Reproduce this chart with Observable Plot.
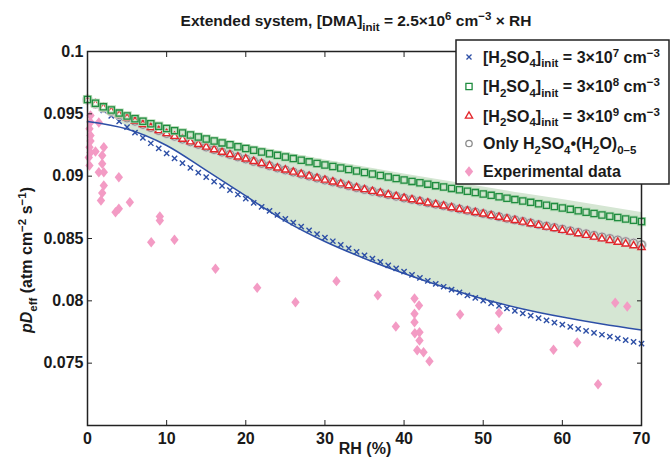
<!DOCTYPE html>
<html><head><meta charset="utf-8">
<script src="https://cdn.jsdelivr.net/npm/d3@7"></script>
<script src="https://cdn.jsdelivr.net/npm/@observablehq/plot@0.6"></script>
<style>body{margin:0;background:#fff}</style>
</head><body><div id="chart"></div>
<script>
// ---- data ----
const rh = [0,1,2,3,4,5,6,7,8,9,10,11,12,13,14,15,16,17,18,19,20,21,22,23,24,25,26,27,28,29,30,31,32,33,34,35,36,37,38,39,40,41,42,43,44,45,46,47,48,49,50,51,52,53,54,55,56,57,58,59,60,61,62,63,64,65,66,67,68,69,70];
const h2so4_3e7 = [0.09615,0.09571,0.09527,0.09483,0.09439,0.09394,0.09350,0.09307,0.09264,0.09223,0.09182,0.09143,0.09104,0.09066,0.09029,0.08993,0.08957,0.08922,0.08888,0.08853,0.08819,0.08786,0.08754,0.08721,0.08689,0.08658,0.08627,0.08596,0.08566,0.08536,0.08507,0.08478,0.08449,0.08421,0.08393,0.08365,0.08338,0.08312,0.08285,0.08260,0.08234,0.08209,0.08184,0.08160,0.08136,0.08113,0.08089,0.08067,0.08044,0.08023,0.08001,0.07980,0.07959,0.07939,0.07919,0.07900,0.07881,0.07862,0.07844,0.07826,0.07809,0.07792,0.07775,0.07759,0.07743,0.07728,0.07712,0.07698,0.07684,0.07670,0.07656];
const h2so4_3e8 = [0.09615,0.09585,0.09556,0.09531,0.09506,0.09483,0.09461,0.09440,0.09420,0.09401,0.09382,0.09365,0.09347,0.09330,0.09314,0.09298,0.09282,0.09267,0.09252,0.09236,0.09222,0.09208,0.09194,0.09180,0.09167,0.09154,0.09141,0.09128,0.09115,0.09102,0.09090,0.09078,0.09066,0.09054,0.09041,0.09029,0.09017,0.09005,0.08993,0.08981,0.08969,0.08958,0.08947,0.08936,0.08924,0.08913,0.08902,0.08891,0.08879,0.08868,0.08857,0.08846,0.08835,0.08823,0.08812,0.08801,0.08790,0.08778,0.08767,0.08756,0.08745,0.08734,0.08722,0.08711,0.08700,0.08689,0.08678,0.08668,0.08657,0.08647,0.08636];
const h2so4_3e9 = [0.09615,0.09581,0.09550,0.09521,0.09493,0.09467,0.09441,0.09415,0.09390,0.09366,0.09342,0.09320,0.09297,0.09276,0.09255,0.09234,0.09213,0.09193,0.09174,0.09155,0.09138,0.09119,0.09102,0.09084,0.09066,0.09050,0.09033,0.09017,0.09001,0.08985,0.08969,0.08954,0.08939,0.08924,0.08908,0.08893,0.08879,0.08866,0.08852,0.08839,0.08825,0.08812,0.08799,0.08786,0.08774,0.08761,0.08748,0.08735,0.08722,0.08709,0.08697,0.08684,0.08671,0.08658,0.08645,0.08632,0.08619,0.08606,0.08592,0.08580,0.08566,0.08552,0.08539,0.08526,0.08512,0.08498,0.08485,0.08471,0.08457,0.08443,0.08429];
const onlyHydrates = [0.09615,0.09581,0.09550,0.09521,0.09493,0.09467,0.09441,0.09415,0.09390,0.09366,0.09342,0.09320,0.09297,0.09276,0.09255,0.09234,0.09213,0.09193,0.09174,0.09155,0.09138,0.09119,0.09102,0.09084,0.09066,0.09050,0.09033,0.09017,0.09001,0.08985,0.08969,0.08954,0.08939,0.08924,0.08908,0.08893,0.08879,0.08866,0.08852,0.08839,0.08825,0.08813,0.08800,0.08787,0.08775,0.08763,0.08750,0.08737,0.08725,0.08712,0.08700,0.08688,0.08675,0.08662,0.08650,0.08637,0.08625,0.08612,0.08600,0.08588,0.08575,0.08562,0.08550,0.08538,0.08525,0.08512,0.08500,0.08488,0.08475,0.08463,0.08450];

const lineRH  = [0,5,10,15,20,25,30,35,40,45,50,55,60,65,70];
const lineVal = [0.09439,0.09378,0.09246,0.09046,0.08841,0.08640,0.08476,0.08340,0.08219,0.08111,0.08015,0.07935,0.07870,0.07814,0.07766];

const shadeRH   = [0,1,2,3,4,5,10,15,20,25,30,35,40,45,50,55,60,65,70];
const shadeLow  = [0.09615,0.09571,0.09527,0.09483,0.09439,0.09394,0.09246,0.09046,0.08841,0.08640,0.08476,0.08340,0.08219,0.08111,0.08015,0.07935,0.07870,0.07814,0.07766];
const shadeHigh = [0.09631,0.09605,0.09578,0.09553,0.09528,0.09503,0.09406,0.09326,0.09254,0.09190,0.09130,0.09074,0.09017,0.08965,0.08913,0.08861,0.08813,0.08761,0.08709];

const expRH  = [0.38,0.38,0.25,0.38,0.38,0.25,0.38,0.16,0.25, 1.43,1.01, 2.06,1.86,1.86,1.43,2.06,2.06,1.86,1.7, 3.96,5.35,3.96,3.54, 9.14,9.14,8.05,10.99,16.17,21.44,26.28,31.46,36.68,38.96, 41.32,41.89,41.32,41.32,41.36,41.95,41.95,41.66,42.46,43.21, 47.08,52.0,51.93,58.88,61.88,64.51,66.68,68.2];
const expVal = [0.09487,0.09433,0.09380,0.09326,0.09282,0.09232,0.09190,0.09150,0.09086, 0.09430,0.09198, 0.09232,0.09166,0.09099,0.09032,0.09032,0.08925,0.08865,0.08805, 0.08992,0.08791,0.08738,0.08711, 0.08677,0.08644,0.08470,0.08490,0.08257,0.08105,0.07989,0.08158,0.08045,0.07794, 0.08019,0.07963,0.07896,0.07829,0.07740,0.07748,0.07682,0.07604,0.07588,0.07516, 0.07890,0.07902,0.07776,0.07607,0.07666,0.07331,0.07984,0.07955];

const xTicks = [0,10,20,30,40,50,60,70];
const yTicks = [0.075,0.08,0.085,0.09,0.095,0.1];
const yTickLabels = ["0.075","0.08","0.085","0.09","0.095","0.1"];

// ---- tables ----
const model = rh.map((x,i) => ({x, a:h2so4_3e7[i], b:h2so4_3e8[i], c:h2so4_3e9[i], d:onlyHydrates[i]}));
const lineRows = lineRH.map((x,i) => ({x, y:lineVal[i]}));
const shadeRows = shadeRH.map((x,i) => ({x, lo:shadeLow[i], hi:shadeHigh[i]}));
const expRows = expRH.map((x,i) => ({x, y:expVal[i]}));

const tallDiamond = {draw(ctx, size){ const s=Math.sqrt(size); const h=s*0.5, w=s*0.4;
  ctx.moveTo(0,-h); ctx.lineTo(w,0); ctx.lineTo(0,h); ctx.lineTo(-w,0); ctx.closePath(); }};

const BLUE="#2d4fa6", GREEN="#1f8c3f", RED="#e3262b", GRAY="#8c8c8c", PINK="#f39bc4";
const FONT = "'Liberation Sans', Arial, Helvetica, sans-serif";

const chart = Plot.plot({
  width: 670, height: 457,
  marginLeft: 87, marginRight: 29, marginTop: 51, marginBottom: 32,
  style: {fontFamily: FONT, fontSize: "16px", fontWeight: "bold", color: "#1a1a1a", background: "#fff"},
  x: {domain: [0,70]},
  y: {domain: [0.07,0.1]},
  marks: [
    Plot.areaY(shadeRows, {x:"x", y1:"lo", y2:"hi", fill:"#d5e6d3", curve:"monotone-x"}),
    Plot.dot(expRows, {x:"x", y:"y", symbol: tallDiamond, r:5.9, fill:PINK, stroke:"none"}),
    Plot.line(lineRows, {x:"x", y:"y", stroke:BLUE, strokeWidth:1.5, curve:"monotone-x"}),
    Plot.dot(model, {x:"x", y:"a", symbol:"times", r:2.5, stroke:BLUE, strokeWidth:1.4}),
    Plot.dot(model, {x:"x", y:"d", symbol:"circle", r:4, stroke:"#cfcfcf", strokeWidth:2.6, fill:"none"}),
    Plot.dot(model, {x:"x", y:"d", symbol:"circle", r:4, stroke:GRAY, strokeWidth:1, fill:"none"}),
    Plot.dot(model, {x:"x", y:"c", symbol:"triangle", r:2.7, stroke:RED, strokeWidth:1.4, fill:"#fff"}),
    Plot.dot(model, {x:"x", y:"b", symbol:"square", r:3.5, stroke:"#b8dbb8", strokeWidth:3, fill:"none"}),
    Plot.dot(model, {x:"x", y:"b", symbol:"square", r:3.5, stroke:GREEN, strokeWidth:1.3, fill:"none"}),
    Plot.frame({stroke:"#222", strokeWidth:1.5}),
    Plot.axisX({anchor:"bottom", ticks:xTicks, tickSize:5, dy:-5, tickFormat:()=>"", label:null, stroke:"#222"}),
    Plot.axisX({anchor:"top", ticks:xTicks, tickSize:5, dy:5, tickFormat:()=>"", label:null, stroke:"#222"}),
    Plot.axisY({anchor:"left", ticks:yTicks, tickSize:5, dx:5, tickFormat:()=>"", label:null, stroke:"#222"}),
    Plot.axisY({anchor:"right", ticks:yTicks, tickSize:5, dx:-5, tickFormat:()=>"", label:null, stroke:"#222"}),
    Plot.axisX({anchor:"bottom", ticks:xTicks, tickSize:0, tickPadding:7, tickFormat:d=>String(d), label:null, fill:"#1a1a1a"}),
    Plot.axisY({anchor:"left", ticks:yTicks, tickSize:0, tickPadding:4, tickFormat:d=>yTickLabels[yTicks.indexOf(d)], label:null, fill:"#1a1a1a"})
  ]
});
document.getElementById("chart").appendChild(chart);

// ---- annotations ----
const svg = d3.select(chart);
function rich(sel, parts){
  let cur = 0;
  for (const [s, m, it] of parts){
    const target = m==="sub" ? 4.5 : m==="sup" ? -6 : 0;
    const t = sel.append("tspan").attr("dy", target-cur).text(s);
    if (m!=="n") t.attr("font-size", 11.5);
    if (it) t.attr("font-style", "italic");
    cur = target;
  }
}
const T = (x,y,anchor,fs) => svg.append("text").attr("x",x).attr("y",y).attr("text-anchor",anchor||"start")
  .attr("font-family",FONT).attr("font-size",fs||16).attr("font-weight","bold").attr("fill","#1a1a1a");

rich(T(356,26,"middle",15.5), [["Extended system, [DMA]","n"],["init","sub"],[" = 2.5×10","n"],["6","sup"],[" cm","n"],["−3","sup"],[" × RH","n"]]);
T(365,454,"middle").text("RH (%)");
rich(svg.append("text").attr("transform","translate(32,260) rotate(-90)").attr("text-anchor","middle")
  .attr("font-family",FONT).attr("font-size",16).attr("font-weight","bold").attr("fill","#1a1a1a"),
  [["pD","n",true],["eff","sub"],[" (atm cm","n"],["−2","sup"],[" s","n"],["−1","sup"],[")","n"]]);

// legend
const lg = svg.append("g");
lg.append("rect").attr("x",456).attr("y",40).attr("width",213).attr("height",144).attr("fill","#fff").attr("stroke","#222").attr("stroke-width",1.5);
const items = [
  {sym:d3.symbolTimes, r:2.4, stroke:BLUE, fill:"none", y:57, parts:[["[H","n"],["2","sub"],["SO","n"],["4","sub"],["]","n"],["init","sub"],[" = 3×10","n"],["7","sup"],[" cm","n"],["−3","sup"]]},
  {sym:d3.symbolSquare, r:3.5, stroke:GREEN, fill:"none", y:86.5, parts:[["[H","n"],["2","sub"],["SO","n"],["4","sub"],["]","n"],["init","sub"],[" = 3×10","n"],["8","sup"],[" cm","n"],["−3","sup"]]},
  {sym:d3.symbolTriangle, r:2.7, stroke:RED, fill:"#fff", y:116, parts:[["[H","n"],["2","sub"],["SO","n"],["4","sub"],["]","n"],["init","sub"],[" = 3×10","n"],["9","sup"],[" cm","n"],["−3","sup"]]},
  {sym:d3.symbolCircle, r:3.2, stroke:GRAY, fill:"none", y:143.5, parts:[["Only H","n"],["2","sub"],["SO","n"],["4","sub"],["•(H","n"],["2","sub"],["O)","n"],["0–5","sub"]]},
  {sym:tallDiamond, r:5.9, stroke:"none", fill:PINK, y:171.5, parts:[["Experimental data","n"]]}
];
for (const it of items){
  lg.append("path").attr("transform",`translate(469,${it.y})`)
    .attr("d", d3.symbol(it.sym, Math.PI*it.r*it.r)())
    .attr("stroke", it.stroke).attr("stroke-width",1.3).attr("fill", it.fill);
  rich(T(483, it.y+5.5), it.parts);
}
</script></body></html>
